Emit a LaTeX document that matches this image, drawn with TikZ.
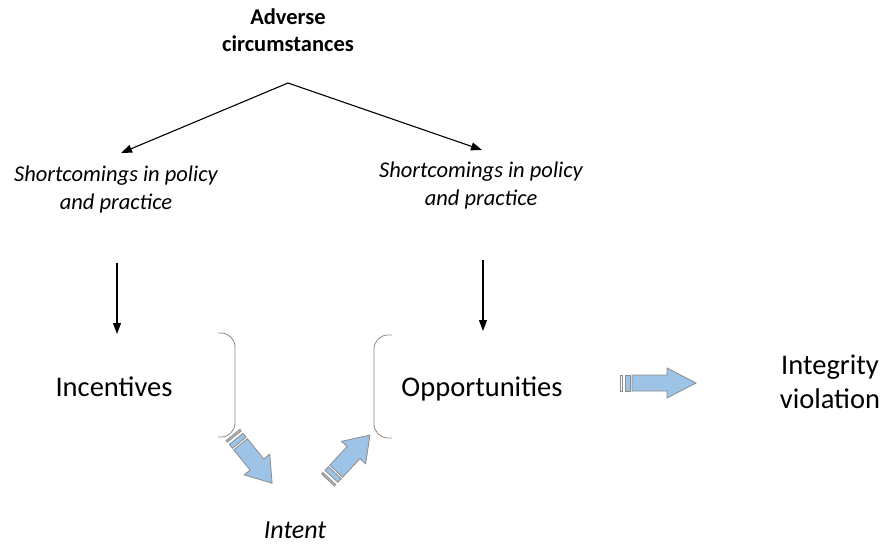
\documentclass[tikz,border=0pt]{standalone}
\usepackage{fontspec}
\setmainfont{Carlito}
\usetikzlibrary{arrows.meta}
\definecolor{arrblue}{HTML}{9DC3E6}
\definecolor{arrgray}{HTML}{8C8C8C}
\definecolor{stripe}{HTML}{B4BCC4}
\definecolor{brgray}{HTML}{8A8A8A}
\newcommand{\blockarr}[7]{% x, y, angle (canvas), length, head length, first stripe fill, width scale
  \begin{scope}[shift={(#1,#2)},rotate=#3,yscale=#7]
    \draw[arrgray,fill=#6,line width=0.8pt] (0,-8) rectangle (2,8);
    \draw[arrgray,fill=arrblue,line width=0.8pt] (5,-8) rectangle (10,8);
    \draw[arrgray,fill=arrblue,line width=0.8pt]
      (12,-8) -- ({#4-#5},-8) -- ({#4-#5},-15) -- (#4,0) -- ({#4-#5},15) -- ({#4-#5},8) -- (12,8) -- cycle;
  \end{scope}}
\tikzset{
  conn/.style={line width=1.1pt,-{Triangle[length=11pt,width=8pt]}},
  hdr/.style={font=\fontsize{22.5}{27}\selectfont\bfseries,align=center,inner sep=0pt},
  shc/.style={font=\fontsize{22.5}{28}\selectfont\itshape,align=center,inner sep=0pt},
  big/.style={font=\fontsize{28.5}{34}\selectfont,align=center,inner sep=0pt},
  intent/.style={font=\fontsize{26}{30}\selectfont\itshape,inner sep=0pt},
  brk/.style={brgray,line width=0.8pt,rounded corners=14pt}
}
\begin{document}
\begin{tikzpicture}[x=1pt,y=-1pt]
\useasboundingbox (0,0) rectangle (885,543);
\node[hdr] (adv) at (288,30) {Adverse\\circumstances};
\node[shc] (shl) at (116,189) {Shortcomings in policy\\and practice};
\node[shc] (shr) at (481,185) {Shortcomings in policy\\and practice};
\node[big,anchor=base] (inc) at (114,396) {Incentives};
\node[big,anchor=base] (opp) at (482,396) {Opportunities};
\node[big] (int) at (830,382) {Integrity\\violation};
\node[intent,anchor=base] (intent) at (295,538) {Intent};

\coordinate (apex) at (288,83);
\coordinate (tl) at (121,153);
\coordinate (tr) at (482,150);
\draw[conn] (apex) -- (tl);
\draw[conn] (apex) -- (tr);
\coordinate (vl1) at (117,263);
\coordinate (vl2) at (117,334);
\coordinate (vr1) at (483,260);
\coordinate (vr2) at (483,331);
\draw[conn] (vl1) -- (vl2);
\draw[conn] (vr1) -- (vr2);

\draw[brk] (218,333) -- (235,333) -- (235,437) -- (218,437);
\draw[brk] (392,335) -- (374,335) -- (374,438) -- (392,438);

\blockarr{620}{383}{0}{76}{29}{white}{1}
\blockarr{233}{435}{-50.9}{62}{24}{stripe}{1.1}
\blockarr{328}{480}{47}{61.5}{24}{stripe}{1.1}
\end{tikzpicture}
\end{document}
